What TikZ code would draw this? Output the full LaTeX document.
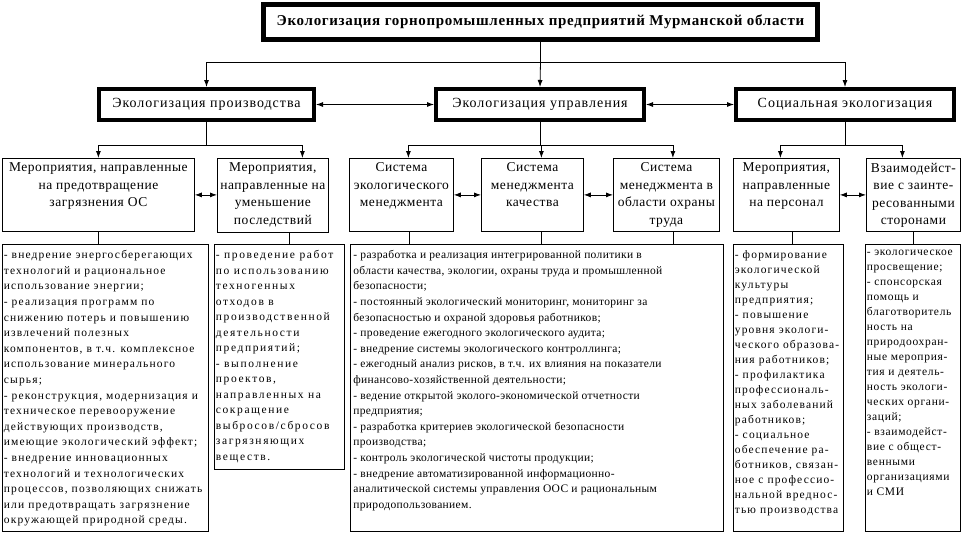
\documentclass[tikz,border=0pt]{standalone}
\usepackage{fontspec}
\setmainfont{Liberation Serif}
\newfontfamily\titlefont[LetterSpace=4.5]{Liberation Serif}
\newfontfamily\headfont[LetterSpace=7]{Liberation Serif}
\newfontfamily\groupfont[LetterSpace=4]{Liberation Serif}
\newfontfamily\listfont{Liberation Serif}
\usetikzlibrary{arrows.meta, positioning, calc}
\tikzset{
    titlebox/.style={draw, line width=5pt, minimum width=554pt, minimum height=35pt, inner sep=0pt,
      font=\titlefont\bfseries\fontsize{15}{18}\selectfont},
    headbox/.style={draw, line width=4pt, minimum height=31pt, inner sep=0pt,
      font=\headfont\fontsize{14}{17}\selectfont},
    groupbox/.style={draw, line width=0.8pt, anchor=north west, minimum height=73pt, inner sep=0pt},
    grouptext/.style={align=center, inner sep=0pt, font=\groupfont\fontsize{13.5}{17.5}\selectfont},
    listbox/.style={draw, line width=0.8pt, anchor=north west, minimum height=287pt, inner sep=0pt},
    listtext/.style 2 args={align=left, inner sep=0pt,
      font=\listfont\addfontfeatures{LetterSpace=#1}\fontsize{11.5}{#2}\selectfont},
    bothway/.style={<->},
}

\begin{document}
\begin{tikzpicture}[x=1pt, y=-1pt, >={Latex[length=7pt,width=5pt]}, line width=0.8pt]
    \useasboundingbox (0,0) rectangle (962,533);

    % first and second level
    \node[titlebox] (top) at (540.5,22) {Экологизация горнопромышленных предприятий Мурманской области};

    \node[headbox, minimum width=215pt] (prod) at (206.5,104.5) {Экологизация производства};
    \node[headbox, minimum width=208pt] (upr) at (540,104.5) {Экологизация управления};
    \node[headbox, minimum width=218pt] (soc) at (845,104.5) {Социальная экологизация};

    \draw (top.south) -- ++(0,20) coordinate (tbus);
    \draw[->] (tbus) -| (prod.north);
    \draw[->] (tbus) -| (soc.north);
    \draw[->] (tbus) -- (upr.north);

    \draw[bothway] (prod.east) -- (upr.west);
    \draw[bothway] (upr.east) -- (soc.west);

    % third level
    \node[groupbox, minimum width=192pt] (m1) at (2,158) {};
    \node[groupbox, minimum width=111pt, minimum height=74pt] (m2) at (217,158) {};
    \node[groupbox, minimum width=104pt] (m3) at (349,158) {};
    \node[groupbox, minimum width=102pt] (m4) at (481,158) {};
    \node[groupbox, minimum width=106pt] (m5) at (613,158) {};
    \node[groupbox, minimum width=106pt] (m6) at (733,158) {};
    \node[groupbox, minimum width=94pt] (m7) at (866,158) {};

    \node[grouptext, below=4.5pt of m1.north] (m1t) {Мероприятия, направленные\\на предотвращение\\загрязнения ОС};
    \node[grouptext, below=4.5pt of m2.north] (m2t) {Мероприятия,\\направленные на\\уменьшение\\последствий};
    \node[grouptext, below=4.5pt of m3.north] (m3t) {Система\\экологического\\менеджмента};
    \node[grouptext, below=4.5pt of m4.north] (m4t) {Система\\менеджмента\\качества};
    \node[grouptext, below=4.5pt of m5.north] (m5t) {Система\\менеджмента в\\области охраны\\труда};
    \node[grouptext, below=4.5pt of m6.north] (m6t) {Мероприятия,\\направленные\\на персонал};
    \node[grouptext, below=4.5pt of m7.north] (m7t) {Взаимодейст-\\вие с заинте-\\ресованными\\сторонами};

    \draw (prod.south) -- ++(0,23) coordinate (pbus);
    \draw[->] (pbus) -| (m1.north);
    \draw[->] (pbus) -| ([xshift=29.5pt]m2.north);
    \draw (upr.south) -- ++(0,23) coordinate (ubus);
    \draw[->] (ubus) -| ([xshift=7pt]m3.north);
    \draw[->] (ubus) -| ([xshift=9pt]m4.north);
    \draw[->] (ubus) -| ([xshift=6.5pt]m5.north);
    \draw (soc.south) -- ++(0,23) coordinate (sbus);
    \draw[->] (sbus) -| ([xshift=-6pt]m6.north);
    \draw[->] (sbus) -| ([xshift=-11pt]m7.north);

    \draw[bothway] (m1.east) -- (m1.east -| m2.west);
    \draw[bothway] (m3.east) -- (m4.west);
    \draw[bothway] (m4.east) -- (m5.west);
    \draw[bothway] (m6.east) -- (m7.west);

    % fourth level
    \node[listbox, minimum width=206pt] (la) at (2,244) {};
    \node[listbox, minimum width=130pt, minimum height=225pt] (lb) at (214,244) {};
    \node[listbox, minimum width=373pt] (lc) at (350,244) {};
    \node[listbox, minimum width=110pt] (ld) at (733,244) {};
    \node[listbox, minimum width=95pt] (le) at (865,244) {};

    \draw (m1.south) -- (m1.south |- la.north);
    \draw ([xshift=16.5pt]m2.south) -- ([xshift=16.5pt]m2.south |- lb.north);
    \draw ([xshift=8pt]m3.south) -- ([xshift=8pt]m3.south |- lc.north);
    \draw ([xshift=9pt]m4.south) -- ([xshift=9pt]m4.south |- lc.north);
    \draw ([xshift=7pt]m5.south) -- ([xshift=7pt]m5.south |- lc.north);
    \draw ([xshift=6pt]m6.south) -- ([xshift=6pt]m6.south |- ld.north);
    \draw (m7.south) -- (m7.south |- le.north);

    \node[listtext={10}{15.6}, below right=6pt and 1.5pt of la.north west] (lat) {- внедрение энергосберегающих\\технологий и рациональное\\использование энергии;\\- реализация программ по\\снижению потерь и повышению\\извлечений полезных\\компонентов, в т.ч. комплексное\\использование минерального\\сырья;\\- реконструкция, модернизация и\\техническое перевооружение\\действующих производств,\\имеющие экологический эффект;\\- внедрение инновационных\\технологий и технологических\\процессов, позволяющих снижать\\или предотвращать загрязнение\\окружающей природной среды.};
    \node[listtext={14}{15.5}, below right=6pt and 1.5pt of lb.north west] (lbt) {- проведение работ\\по использованию\\техногенных\\отходов в\\производственной\\деятельности\\предприятий;\\- выполнение\\проектов,\\направленных на\\сокращение\\выбросов/сбросов\\загрязняющих\\веществ.};
    \node[listtext={3}{15.6}, below right=6pt and 3pt of lc.north west] (lct) {- разработка и реализация интегрированной политики в\\области качества, экологии, охраны труда и промышленной\\безопасности;\\- постоянный экологический мониторинг, мониторинг за\\безопасностью и охраной здоровья работников;\\- проведение ежегодного экологического аудита;\\- внедрение системы экологического контроллинга;\\- ежегодный анализ рисков, в т.ч. их влияния на показатели\\финансово-хозяйственной деятельности;\\- ведение открытой эколого-экономической отчетности\\предприятия;\\- разработка критериев экологической безопасности\\производства;\\- контроль экологической чистоты продукции;\\- внедрение автоматизированной информационно-\\аналитической системы управления ООС и рациональным\\природопользованием.};
    \node[listtext={10}{15}, below right=6pt and 1.5pt of ld.north west] (ldt) {- формирование\\экологической\\культуры\\предприятия;\\- повышение\\уровня экологи-\\ческого образова-\\ния работников;\\- профилактика\\профессиональ-\\ных заболеваний\\работников;\\- социальное\\обеспечение ра-\\ботников, связан-\\ное с профессио-\\нальной вреднос-\\тью производства};
    \node[listtext={6}{15}, below right=6pt and 1.5pt of le.north west] (let) {- экологическое\\просвещение;\\- спонсорская\\помощь и\\благотворитель\\ность на\\природоохран-\\ные мероприя-\\тия и деятель-\\ность экологи-\\ческих органи-\\заций;\\- взаимодейст-\\вие с общест-\\венными\\организациями\\и СМИ};
\end{tikzpicture}
\end{document}
